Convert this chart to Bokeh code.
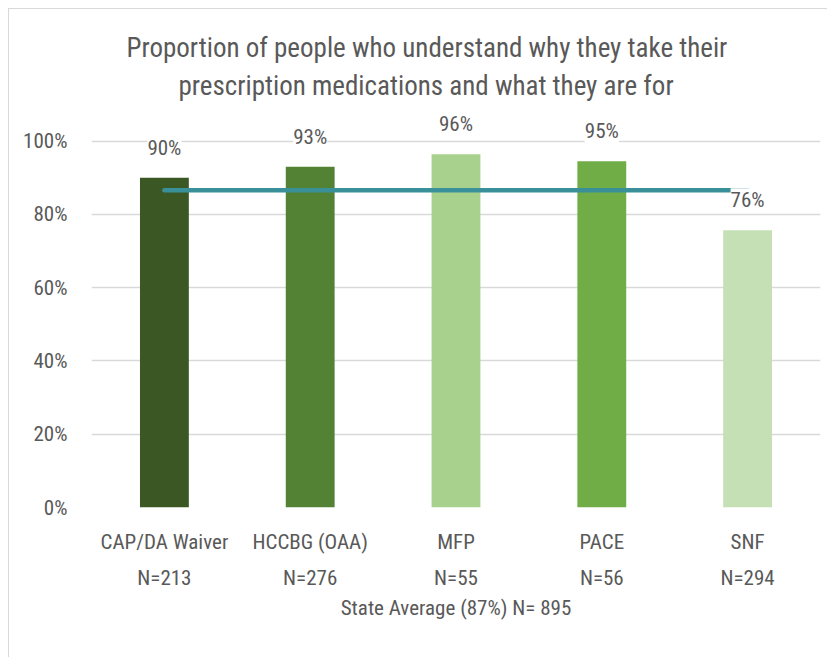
from bokeh.plotting import figure
from bokeh.models import (ColumnDataSource, LabelSet, Title, CategoricalAxis,
                          FixedTicker, NumeralTickFormatter, Range1d, FactorRange)
from bokeh.core.properties import value
from bokeh.embed import file_html
from bokeh.resources import INLINE

# ---- data ----
programs = ["CAP/DA Waiver", "HCCBG (OAA)", "MFP", "PACE", "SNF"]
sample_sizes = ["N=213", "N=276", "N=55", "N=56", "N=294"]
proportions = [0.90, 0.93, 0.964, 0.945, 0.757]
bar_labels = ["90%", "93%", "96%", "95%", "76%"]
state_average = 0.866
state_label = "State Average (87%) N= 895"
title_lines = ["Proportion of people who understand why they take their",
               "prescription medications and what they are for"]
y_ticks = [0, 0.2, 0.4, 0.6, 0.8, 1.0]

colors = ["#3A5724", "#548235", "#A9D18E", "#70AD47", "#C5E0B4"]
FONT = "Liberation Sans Narrow, Roboto Condensed, Open Sans, sans-serif"
GREY = "#595959"
FS = "21px"

src = ColumnDataSource(dict(prog=programs, val=proportions, lab=bar_labels, col=colors))

p = figure(width=819, height=649, x_range=programs, y_range=Range1d(0, 1.10),
           output_backend="svg", toolbar_location=None,
           min_border_left=82, min_border_right=8, min_border_top=95, min_border_bottom=151)
p.styles = {"margin-left": "8px", "margin-top": "8px",
            "border-left": "1px solid #D9D9D9", "border-top": "1px solid #D9D9D9"}
p.outline_line_color = None
p.background_fill_color = "white"
p.border_fill_color = "white"
p.extra_x_ranges = {"n": FactorRange(factors=sample_sizes)}

p.vbar(x="prog", top="val", width=0.335, fill_color="col", line_color=None, source=src)

labels = LabelSet(x="prog", y="val", text="lab", source=src, text_align="center",
                  text_baseline="bottom", y_offset=18, text_font=value(FONT),
                  text_font_size=FS, text_color=GREY,
                  background_fill_color="white", level="glyph")
p.add_layout(labels)

p.line(x=[programs[0], programs[-1]], y=[state_average, state_average],
       line_color="#3A9098", line_width=4.5, line_cap="round")

# y axis
p.yaxis.ticker = FixedTicker(ticks=y_ticks)
p.yaxis.formatter = NumeralTickFormatter(format="0%")
p.yaxis.axis_line_color = None
p.yaxis.major_tick_line_color = None
p.yaxis.minor_tick_line_color = None
p.yaxis.major_label_text_font = FONT
p.yaxis.major_label_text_font_size = FS
p.yaxis.major_label_text_color = GREY
p.yaxis.major_label_standoff = 18

p.ygrid.ticker = FixedTicker(ticks=y_ticks)
p.ygrid.grid_line_color = "#D9D9D9"
p.ygrid.grid_line_width = 1.5
p.xgrid.grid_line_color = None

# x axis (program names)
xa = p.xaxis[0]
xa.axis_line_color = None
xa.major_tick_line_color = None
xa.major_label_text_font = FONT
xa.major_label_text_font_size = FS
xa.major_label_text_color = GREY
xa.major_label_standoff = 16

# second x axis (sample sizes)
xa2 = CategoricalAxis(x_range_name="n")
xa2.axis_line_color = None
xa2.major_tick_line_color = None
xa2.major_label_text_font = FONT
xa2.major_label_text_font_size = FS
xa2.major_label_text_color = GREY
xa2.major_label_standoff = 3
xa2.axis_label = state_label
xa2.axis_label_text_font = FONT
xa2.axis_label_text_font_size = FS
xa2.axis_label_text_font_style = "normal"
xa2.axis_label_text_color = GREY
xa2.axis_label_standoff = 3
p.add_layout(xa2, "below")

# title lines (second line nearest the plot)
for t, off, so in reversed(list(zip(title_lines, [35, 87], [4, 5]))):
    p.add_layout(Title(text=t, align="left", offset=off, standoff=so,
                       text_font=FONT, text_font_size="27px", text_color=GREY,
                       text_font_style="normal"), "above")

open("out.html", "w").write(file_html(p, INLINE))
